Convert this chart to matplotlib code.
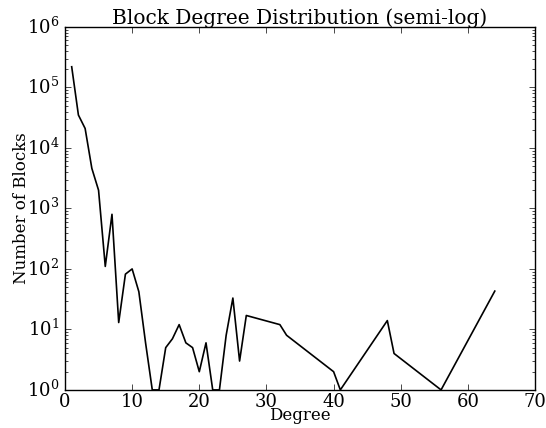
"""
Block degree distribution, semi-log plot.
"""
import matplotlib
matplotlib.use('Agg')
import matplotlib.pyplot as plt

# degrees that occur and how many blocks have each degree
degrees = [1, 2, 3, 4, 5, 6, 7, 8, 9, 10, 11, 12, 13, 14, 15, 16, 17, 18,
           19, 20, 21, 22, 23, 24, 25, 26, 27, 32, 33, 40, 41, 48, 49, 56, 64]
block_counts = [220000, 35000, 21000, 4600, 2000, 110, 800, 13, 82, 100,
                42, 6, 1, 1, 5, 7, 12, 6, 5, 2, 6, 1, 1, 8, 33, 3, 17,
                12, 8, 2, 1, 14, 4, 1, 43]

plt.style.use('classic')
plt.rcParams['font.family'] = 'DejaVu Serif'
plt.rcParams['mathtext.fontset'] = 'dejavuserif'
plt.rcParams['figure.facecolor'] = 'white'
plt.rcParams['savefig.facecolor'] = 'white'

fig = plt.figure(figsize=(5.46, 4.28), dpi=100)
ax = fig.add_axes([0.119, 0.089, 0.861, 0.848])
ax.plot(degrees, block_counts, color='k', linewidth=1.2)
ax.set_yscale('log')
ax.set_xlim(0, 70)
ax.set_ylim(1, 1e6)
ax.set_xlabel('Degree', fontsize=12, labelpad=-2.5)
ax.set_ylabel('Number of Blocks', fontsize=12, labelpad=-2)
ax.set_title('Block Degree Distribution (semi-log)', fontsize=14.5, pad=2)
ax.tick_params(labelsize=13)
ax.tick_params(axis='x', pad=2)

fig.savefig('out.png', dpi=100)
plt.close(fig)
